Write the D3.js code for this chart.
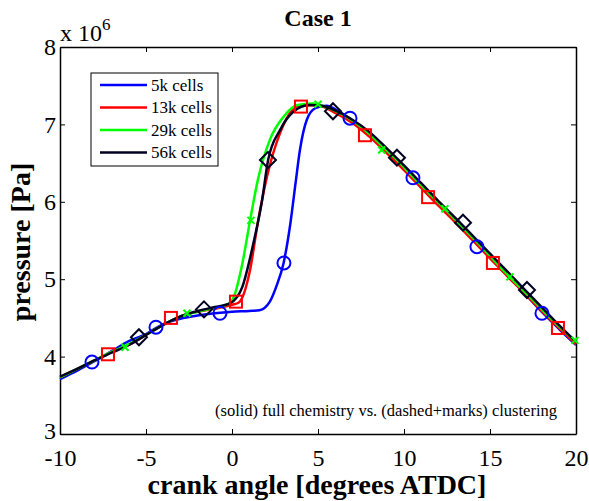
<!DOCTYPE html>
<html>
<head>
<meta charset="utf-8">
<script src="https://cdn.jsdelivr.net/npm/d3@7"></script>
<style>
body{margin:0;background:#fff;}
svg text{font-family:"Liberation Serif","Times New Roman",Times,serif !important;}
</style>
</head>
<body>
<svg id="svg" width="589" height="501"></svg>
<script>
var marginLeft=60;
var marginTop=47;
var width=576-marginLeft;
var height=434-marginTop;
var serif='"Liberation Serif","Times New Roman",Times,serif';

// series names / colours
var seriesNames=["5k cells","13k cells","29k cells","56k cells"];
var seriesColors=["#0000ff","#ff0000","#00ff00","#000022"];

// curves: [crank angle, pressure x1e6]
var blue5k=[[-10,3.71],[-9,3.82],[-8,3.94],[-7,4.07],[-6,4.2],[-5,4.29],[-4.5,4.36],[-4,4.42],[-3,4.49],[-2,4.53],[-1,4.56],[0,4.58],[1,4.59],[1.6,4.6],[2.2,4.71],[2.6,4.92],[3.0,5.21],[3.4,5.73],[3.7,6.25],[3.95,6.67],[4.35,7.06],[4.85,7.21],[5.5,7.24],[6.2,7.17],[7,7.05],[8,6.86],[9,6.64],[10,6.42],[11,6.19],[12,5.96],[13,5.74],[14,5.51],[15,5.28],[16,5.05],[17,4.82],[18,4.58],[19,4.36],[20,4.15]];
var red13k=[[-10,3.73],[-9,3.84],[-8,3.95],[-7,4.06],[-6,4.15],[-5,4.28],[-4,4.41],[-3,4.52],[-2,4.58],[-1,4.62],[0,4.67],[0.4,4.7],[1.05,5.12],[1.5,5.73],[2.03,6.32],[2.8,6.89],[3.8,7.23],[4.9,7.25],[6,7.15],[7,7.02],[8,6.84],[9,6.63],[10,6.41],[11,6.18],[12,5.95],[13,5.73],[14,5.5],[15,5.27],[16,5.04],[17,4.82],[18,4.59],[19,4.37],[20,4.16]];
var green29k=[[-10,3.73],[-9,3.84],[-8,3.95],[-7,4.06],[-6,4.16],[-5,4.28],[-4,4.41],[-3,4.52],[-2,4.58],[-1,4.63],[-0.2,4.68],[0.1,4.77],[0.6,5.2],[1.05,5.76],[1.5,6.28],[2.2,6.8],[3.0,7.1],[3.8,7.25],[4.7,7.27],[5.5,7.22],[6.5,7.12],[7.5,6.97],[8.5,6.77],[9.5,6.56],[10.5,6.33],[11.5,6.1],[12.5,5.88],[13.5,5.65],[14.5,5.42],[15.5,5.18],[16.5,4.95],[17.5,4.73],[18.5,4.5],[19.5,4.29],[20,4.19]];
var black56k=[[-10,3.74],[-9,3.84],[-8,3.95],[-7,4.05],[-6,4.15],[-5,4.28],[-4,4.41],[-3,4.52],[-2,4.59],[-1,4.64],[-0.1,4.69],[0.6,4.9],[1.2,5.42],[1.75,6.02],[2.1,6.54],[2.8,6.93],[3.55,7.16],[4.5,7.25],[5.2,7.24],[6,7.18],[7,7.06],[8,6.9],[9,6.69],[10,6.47],[11,6.24],[12,6.01],[13,5.79],[14,5.56],[15,5.33],[16,5.1],[17,4.87],[18,4.64],[19,4.41],[20,4.19]];

// clustering markers
var blueMarks=[[-8.14,3.93],[-4.42,4.38],[-0.7,4.56],[3.02,5.21],[6.86,7.08],[10.52,6.31],[14.24,5.42],[18.02,4.56]];
var redMarks=[[-7.21,4.03],[-3.55,4.5],[0.23,4.71],[4.01,7.23],[7.73,6.86],[11.4,6.06],[15.17,5.21],[18.95,4.37]];
var greenMarks=[[-6.22,4.12],[-2.62,4.56],[1.1,5.76],[5.0,7.26],[8.7,6.67],[12.38,5.91],[16.16,5.03],[19.94,4.21]];
var blackMarks=[[-5.41,4.25],[-1.63,4.61],[2.09,6.54],[5.87,7.17],[9.59,6.57],[13.43,5.73],[17.15,4.86]];

var xTicks=[-10,-5,0,5,10,15,20];
var yTicks=[3,4,5,6,7,8];

var svg=d3.select("#svg");
var g=svg.append("g").attr("transform","translate("+marginLeft+","+marginTop+")");

var x=d3.scaleLinear().domain([-10,20]).range([0,width]);
var y=d3.scaleLinear().domain([3,8]).range([height,0]);

// axes box with inward ticks
var xb=g.append("g").attr("transform","translate(0,"+height+")")
    .call(d3.axisBottom(x).tickValues(xTicks).tickSizeInner(-5).tickSizeOuter(0).tickPadding(15).tickFormat(d=>String(d)));
var xt=g.append("g").call(d3.axisTop(x).tickValues(xTicks).tickSizeInner(-5).tickSizeOuter(0).tickFormat(""));
var yl=g.append("g").call(d3.axisLeft(y).tickValues(yTicks).tickSizeInner(-5).tickSizeOuter(0).tickPadding(4).tickFormat(d=>String(d)));
var yr=g.append("g").attr("transform","translate("+width+",0)")
    .call(d3.axisRight(y).tickValues(yTicks).tickSizeInner(-5).tickSizeOuter(0).tickFormat(""));
[xb,xt,yl,yr].forEach(a=>{
    a.attr("font-family",serif);
    a.select(".domain").attr("stroke","#000").attr("stroke-width",1.5);
    a.selectAll(".tick line").attr("stroke","#000");
    a.selectAll("text").attr("font-size","24px").attr("fill","#000");
});
yl.selectAll(".tick text").filter(d=>d===3).attr("dy","0.2em");

// lines
var line=d3.line().x(d=>x(d[0])).y(d=>y(d[1])).curve(d3.curveMonotoneX);
var curves=[blue5k,red13k,green29k,black56k];
curves.forEach((c,i)=>{
    g.append("path").datum(c)
        .attr("d",line)
        .attr("fill","none")
        .attr("stroke",seriesColors[i])
        .attr("stroke-width",2.5)
        .attr("stroke-linejoin","round");
});

// markers
g.selectAll(".circ").data(blueMarks).enter().append("circle")
    .attr("cx",d=>x(d[0])).attr("cy",d=>y(d[1])).attr("r",6.5)
    .attr("fill","none").attr("stroke",seriesColors[0]).attr("stroke-width",2);
g.selectAll(".sq").data(redMarks).enter().append("rect")
    .attr("x",d=>x(d[0])-6).attr("y",d=>y(d[1])-6).attr("width",12).attr("height",12)
    .attr("fill","none").attr("stroke",seriesColors[1]).attr("stroke-width",2);
g.selectAll(".xm").data(greenMarks).enter().append("path")
    .attr("d",d=>{var cx=x(d[0]),cy=y(d[1]),s=3.5;return "M"+(cx-s)+","+(cy-s)+"L"+(cx+s)+","+(cy+s)+"M"+(cx-s)+","+(cy+s)+"L"+(cx+s)+","+(cy-s);})
    .attr("fill","none").attr("stroke",seriesColors[2]).attr("stroke-width",2);
g.selectAll(".dm").data(blackMarks).enter().append("path")
    .attr("d",d=>{var cx=x(d[0]),cy=y(d[1]),s=8;return "M"+cx+","+(cy-s)+"L"+(cx+s)+","+cy+"L"+cx+","+(cy+s)+"L"+(cx-s)+","+cy+"Z";})
    .attr("fill","none").attr("stroke",seriesColors[3]).attr("stroke-width",2);

// legend
var legend=svg.append("g").attr("transform","translate(91,73)").attr("font-family",serif);
legend.append("rect").attr("width",127).attr("height",93).attr("fill","#fff").attr("stroke","#000").attr("stroke-width",1);
seriesNames.forEach((n,i)=>{
    var ly=12+i*22.5;
    legend.append("line").attr("x1",9).attr("x2",56).attr("y1",ly).attr("y2",ly)
        .attr("stroke",seriesColors[i]).attr("stroke-width",2.5);
    legend.append("text").attr("x",60).attr("y",ly).attr("dy","0.33em")
        .attr("font-size","17px").text(n);
});

// titles
svg.append("text").attr("x",318).attr("y",26).attr("text-anchor","middle").attr("font-family",serif)
    .attr("font-size","24px").attr("font-weight","bold").text("Case 1");
var ex=svg.append("text").attr("x",60).attr("y",41).attr("font-size","24px").attr("font-family",serif);
ex.append("tspan").text("x 10");
ex.append("tspan").attr("dy","-11").attr("font-size","17px").text("6");

svg.append("text").attr("x",317).attr("y",494).attr("text-anchor","middle").attr("font-family",serif)
    .attr("font-size","28px").attr("font-weight","bold").text("crank angle [degrees ATDC]");
svg.append("text").attr("transform","translate(30,242) rotate(-90)").attr("text-anchor","middle").attr("font-family",serif)
    .attr("font-size","28px").attr("font-weight","bold").text("pressure [Pa]");

svg.append("text").attr("x",557).attr("y",416).attr("text-anchor","end").attr("font-family",serif)
    .attr("font-size","16.5px").text("(solid) full chemistry vs. (dashed+marks) clustering");
</script>
</body>
</html>
